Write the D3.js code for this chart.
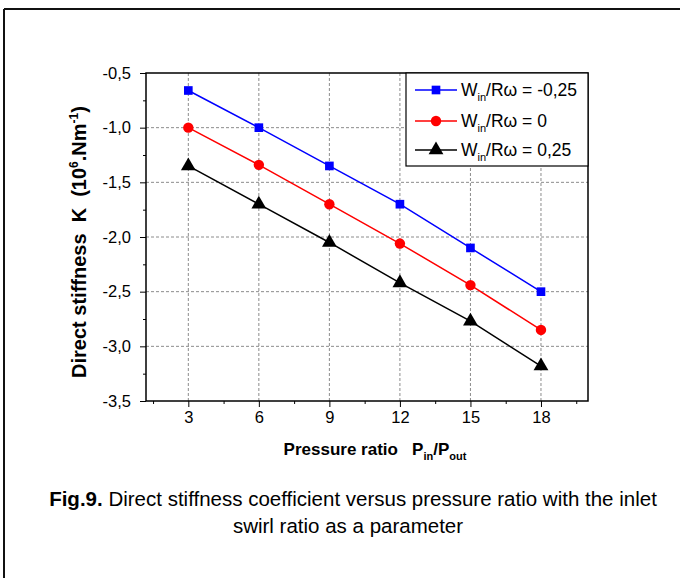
<!DOCTYPE html>
<html>
<head>
<meta charset="utf-8">
<script src="https://cdn.jsdelivr.net/npm/d3@7"></script>
<style>
  body { margin: 0; background: #fff; }
  svg { font-family: "Liberation Sans", Arial, sans-serif; }
</style>
</head>
<body>
<svg id="chart" width="680" height="578"></svg>
<script>
var pressureRatio = [3, 6, 9, 12, 15, 18];
var swirlNeg = [-0.66, -1.0, -1.35, -1.7, -2.1, -2.5];
var swirlZero = [-1.0, -1.34, -1.7, -2.06, -2.44, -2.85];
var swirlPos = [-1.35, -1.7, -2.05, -2.42, -2.77, -3.18];
var seriesLabels = ["-0,25", "0", "0,25"];
var yTicks = [-0.5, -1.0, -1.5, -2.0, -2.5, -3.0, -3.5];

var svg = d3.select("#chart"),
    width = +svg.attr("width"),
    height = +svg.attr("height");

var pLeft = 146, pRight = 588, pTop = 73, pBottom = 401;

var x = d3.scaleLinear().domain([1.2, 20]).range([pLeft, pRight]);
var y = d3.scaleLinear().domain([-3.5, -0.5]).range([pBottom, pTop]);

var fmt = function(d) { return d3.format(".1f")(d).replace(".", ",").replace("\u2212", "-"); };

// outer frame (only top and left visible)
svg.append("line").attr("x1", 4).attr("x2", width).attr("y1", 9).attr("y2", 9)
    .attr("stroke", "#111").attr("stroke-width", 2);
svg.append("line").attr("x1", 4).attr("x2", 4).attr("y1", 9).attr("y2", height)
    .attr("stroke", "#111").attr("stroke-width", 2);

// grid
var grid = svg.append("g").attr("stroke", "#8c8c8c").attr("stroke-dasharray", "3,2").attr("stroke-width", 1);
grid.selectAll(".vx").data(pressureRatio).enter().append("line")
    .attr("x1", function(d) { return x(d); }).attr("x2", function(d) { return x(d); })
    .attr("y1", pTop).attr("y2", pBottom);
grid.selectAll(".hy").data(yTicks.slice(1, -1)).enter().append("line")
    .attr("x1", pLeft).attr("x2", pRight)
    .attr("y1", function(d) { return y(d); }).attr("y2", function(d) { return y(d); });

// axes
var xMinor = d3.range(1.5, 20, 1.5).filter(function(d) { return pressureRatio.indexOf(d) < 0; });
svg.append("g").attr("transform", "translate(0," + pBottom + ")")
    .call(d3.axisBottom(x).tickValues(pressureRatio).tickSize(6).tickPadding(4).tickFormat(d3.format("d")));
svg.append("g").attr("transform", "translate(0," + pBottom + ")")
    .call(d3.axisBottom(x).tickValues(xMinor).tickSize(3).tickFormat(""));

var yMinor = d3.range(-3.25, -0.5, 0.5);
svg.append("g").attr("transform", "translate(" + pLeft + ",0)")
    .call(d3.axisLeft(y).tickValues(yTicks).tickSize(6).tickPadding(9).tickFormat(fmt));
svg.append("g").attr("transform", "translate(" + pLeft + ",0)")
    .call(d3.axisLeft(y).tickValues(yMinor).tickSize(3).tickFormat(""));

svg.selectAll(".domain").remove();
svg.selectAll(".tick line").attr("stroke", "#000").attr("stroke-width", 1);
svg.selectAll(".tick text").style("font-size", "16.5px").attr("fill", "#000")
    .style("font-family", "Liberation Sans, Arial, sans-serif");

// plot frame
svg.append("rect").attr("x", pLeft).attr("y", pTop)
    .attr("width", pRight - pLeft).attr("height", pBottom - pTop)
    .attr("fill", "none").attr("stroke", "#000").attr("stroke-width", 1.5);

// series
var series = [
  { values: swirlNeg, color: "#0000ff", shape: d3.symbolSquare, size: 75 },
  { values: swirlZero, color: "#ff0000", shape: d3.symbolCircle, size: 85 },
  { values: swirlPos, color: "#000000", shape: d3.symbolTriangle, size: 95 }
];

var line = d3.line()
    .x(function(d, i) { return x(pressureRatio[i]); })
    .y(function(d) { return y(d); });

series.forEach(function(s) {
  svg.append("path").datum(s.values)
      .attr("d", line).attr("fill", "none")
      .attr("stroke", s.color).attr("stroke-width", 1.5);
  svg.selectAll(null).data(s.values).enter().append("path")
      .attr("d", d3.symbol().type(s.shape).size(s.size))
      .attr("transform", function(d, i) { return "translate(" + x(pressureRatio[i]) + "," + y(d) + ")"; })
      .attr("fill", s.color);
});

// legend
var legend = svg.append("g");
legend.append("rect").attr("x", 406).attr("y", pTop).attr("width", pRight - 406).attr("height", 93)
    .attr("fill", "#fff").attr("stroke", "#000").attr("stroke-width", 1.2);
var legY = [90, 121, 150];
series.forEach(function(s, i) {
  legend.append("line").attr("x1", 415).attr("x2", 457).attr("y1", legY[i]).attr("y2", legY[i])
      .attr("stroke", s.color).attr("stroke-width", 1.5);
  legend.append("path").attr("d", d3.symbol().type(s.shape).size(s.size))
      .attr("transform", "translate(436," + legY[i] + ")").attr("fill", s.color);
  var t = legend.append("text").attr("x", 461).attr("y", legY[i] + 6)
      .attr("font-size", 17.5).attr("fill", "#000");
  t.append("tspan").text("W");
  t.append("tspan").attr("font-size", 11).attr("dy", 5).text("in");
  t.append("tspan").attr("dy", -5).text("/R\u03c9 = " + seriesLabels[i]);
});

// axis titles
var xt = svg.append("text").attr("x", 375).attr("y", 455).attr("text-anchor", "middle")
    .attr("font-size", 17).attr("font-weight", "bold").attr("fill", "#000");
xt.append("tspan").text("Pressure ratio\u00a0\u00a0\u00a0P");
xt.append("tspan").attr("font-size", 11).attr("dy", 5).text("in");
xt.append("tspan").attr("dy", -5).text("/P");
xt.append("tspan").attr("font-size", 11).attr("dy", 5).text("out");

var yt = svg.append("text").attr("transform", "translate(86,242) rotate(-90)")
    .attr("text-anchor", "middle").attr("font-size", 20).attr("font-weight", "bold").attr("fill", "#000");
yt.append("tspan").text("Direct stiffness\u00a0\u00a0K\u00a0\u00a0(10");
yt.append("tspan").attr("font-size", 12).attr("dy", -8).text("6");
yt.append("tspan").attr("dy", 8).text(".Nm");
yt.append("tspan").attr("font-size", 12).attr("dy", -8).text("-1");
yt.append("tspan").attr("dy", 8).text(")");

// caption
var cap = svg.append("text").attr("x", 353).attr("y", 506).attr("text-anchor", "middle")
    .attr("font-size", 20.5).attr("fill", "#000");
cap.append("tspan").attr("font-weight", "bold").text("Fig.9.");
cap.append("tspan").text(" Direct stiffness coefficient versus pressure ratio with the inlet");
svg.append("text").attr("x", 348).attr("y", 533).attr("text-anchor", "middle")
    .attr("font-size", 20.5).attr("fill", "#000").text("swirl ratio as a parameter");
</script>
</body>
</html>
